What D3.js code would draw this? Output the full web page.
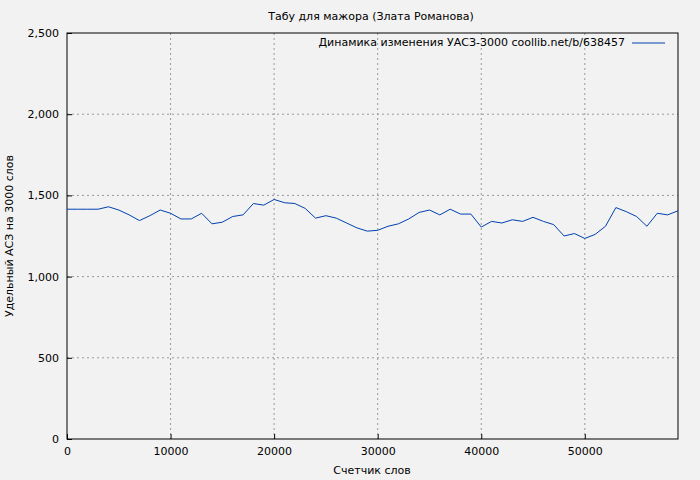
<!DOCTYPE html>
<html><head><meta charset="utf-8">
<script src="https://cdn.jsdelivr.net/npm/d3@7"></script>
<style>body{margin:0;background:#f2f2f2}text{font-family:"DejaVu Sans",sans-serif;font-size:11px;fill:#000}</style>
</head><body><svg id="c" width="700" height="480"></svg>
<script>
var words = [0,1000,2000,3000,4000,5000,6000,7000,8000,9000,10000,11000,12000,13000,14000,15000,16000,17000,18000,19000,20000,21000,22000,23000,24000,25000,26000,27000,28000,29000,30000,31000,32000,33000,34000,35000,36000,37000,38000,39000,40000,41000,42000,43000,44000,45000,46000,47000,48000,49000,50000,51000,52000,53000,54000,55000,56000,57000,58000,59000];
var uasz = [1415,1415,1415,1415,1430,1410,1380,1345,1375,1410,1390,1355,1355,1390,1325,1335,1370,1380,1450,1440,1475,1455,1450,1420,1360,1375,1360,1330,1300,1280,1285,1310,1325,1355,1395,1410,1380,1415,1385,1385,1305,1340,1330,1350,1340,1365,1340,1320,1250,1265,1235,1260,1310,1425,1400,1370,1310,1390,1380,1405];
var xTicks = [0,10000,20000,30000,40000,50000];
var yTicks = [0,500,1000,1500,2000,2500];

var svg = d3.select('#c');
var m = {left:67, right:678, top:33, bottom:439};
var x = d3.scaleLinear().domain([0,59000]).range([m.left,m.right]);
var y = d3.scaleLinear().domain([0,2500]).range([m.bottom,m.top]);

var grid = svg.append('g').attr('stroke','#999').attr('stroke-dasharray','2,3').attr('stroke-width',1);
xTicks.slice(1).forEach(function(t){ grid.append('line').attr('x1',x(t)).attr('x2',x(t)).attr('y1',m.top).attr('y2',m.bottom); });
yTicks.slice(1,-1).forEach(function(t){ grid.append('line').attr('x1',m.left).attr('x2',m.right).attr('y1',y(t)).attr('y2',y(t)); });

svg.append('g').attr('transform','translate(0,'+m.bottom+')')
  .call(d3.axisBottom(x).tickValues(xTicks).tickSize(-5).tickPadding(8).tickFormat(d3.format('d')))
  .call(function(g){g.select('.domain').remove();});
svg.append('g').attr('transform','translate('+m.left+',0)')
  .call(d3.axisLeft(y).tickValues(yTicks).tickSize(-5).tickPadding(8))
  .call(function(g){g.select('.domain').remove();});
svg.selectAll('.tick text').style('font-size','11px');
svg.append('rect').attr('x',m.left).attr('y',m.top).attr('width',m.right-m.left).attr('height',m.bottom-m.top)
  .attr('fill','none').attr('stroke','#000');

svg.append('path').datum(words.map(function(w,i){return [w,uasz[i]];}))
  .attr('fill','none').attr('stroke','#0040b0').attr('stroke-width',1)
  .attr('d', d3.line().x(function(d){return x(d[0]);}).y(function(d){return y(d[1]);}));

svg.append('text').attr('x',371).attr('y',20).attr('text-anchor','middle').text('Табу для мажора (Злата Романова)');
svg.append('text').attr('x',372).attr('y',474).attr('text-anchor','middle').text('Счетчик слов');
svg.append('text').attr('transform','translate(13,236) rotate(-90)').attr('text-anchor','middle').text('Удельный АСЗ на 3000 слов');
svg.append('text').attr('x',625).attr('y',46).attr('text-anchor','end').text('Динамика изменения УАСЗ-3000 coollib.net/b/638457');
svg.append('line').attr('x1',632).attr('x2',665).attr('y1',43).attr('y2',43).attr('stroke','#0040b0');
</script></body></html>
